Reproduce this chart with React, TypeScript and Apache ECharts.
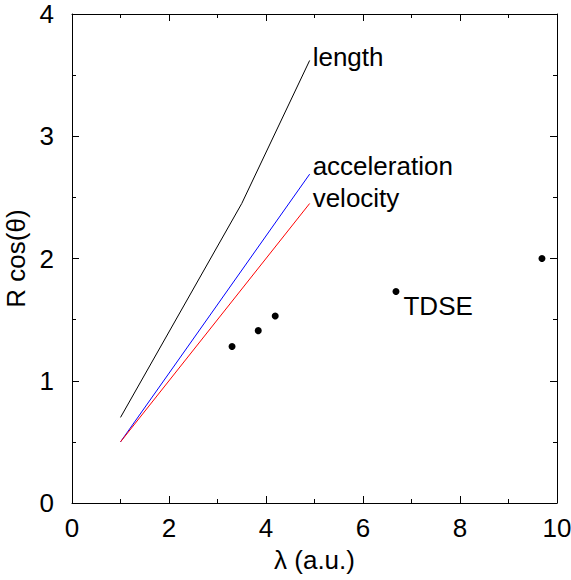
import React, { useEffect, useRef } from "react";
import * as echarts from "echarts";

const lengthX = [1, 3.5, 4.9];
const lengthY = [0.7, 2.45, 3.62];
const accelX = [1, 4.9];
const accelY = [0.5, 2.69];
const velX = [1, 4.9];
const velY = [0.5, 2.45];
const tdseX = [3.3, 3.84, 4.19, 6.68, 9.69];
const tdseY = [1.28, 1.41, 1.53, 1.73, 2.0];
const tdseLabelIndex = 3;

const FONT = "'Liberation Sans', Arial, sans-serif";
const FS = 26;

function zip(xs: number[], ys: number[]) {
  return xs.map((x, i) => [x, ys[i]]);
}

export default function App() {
  const ref = useRef<HTMLDivElement>(null);
  useEffect(() => {
    const chart = echarts.init(ref.current!, null, { renderer: "svg" });
    const axisCommon = {
      axisLine: { show: true, onZero: false, lineStyle: { color: "#000", width: 1 } },
      axisTick: { show: true, inside: true, length: 7, lineStyle: { color: "#000" } },
      minorTick: { show: true, splitNumber: 2, length: 4, lineStyle: { color: "#000" } },
      splitLine: { show: false },
    };
    const lineSeries = (name: string, xs: number[], ys: number[], color: string, offset: number[]) => ({
      type: "line",
      name,
      data: zip(xs, ys),
      showSymbol: false,
      symbol: "none",
      lineStyle: { color, width: 1 },
      endLabel: {
        show: true,
        formatter: name,
        color: "#000",
        fontSize: FS,
        fontFamily: FONT,
        distance: 3,
        offset,
      },
      z: 2,
    });
    chart.setOption({
      animation: false,
      backgroundColor: "#fff",
      grid: { left: 72, right: 14, top: 14, bottom: 77, containLabel: false, outerBoundsMode: "none" },
      xAxis: [
        {
          ...axisCommon,
          type: "value",
          min: 0,
          max: 10,
          interval: 2,
          name: "λ (a.u.)",
          nameLocation: "middle",
          nameGap: 44,
          nameTextStyle: { fontSize: FS, fontFamily: FONT, color: "#000" },
          axisLabel: { fontSize: FS, fontFamily: FONT, color: "#000", margin: 12 },
        },
        {
          ...axisCommon,
          type: "value",
          position: "top",
          min: 0,
          max: 10,
          interval: 2,
          axisLabel: { show: false },
        },
      ],
      yAxis: [
        {
          ...axisCommon,
          type: "value",
          min: 0,
          max: 4,
          interval: 1,
          name: "R cos(θ)",
          nameLocation: "middle",
          nameGap: 37,
          nameTextStyle: { fontSize: FS, fontFamily: FONT, color: "#000" },
          axisLabel: { fontSize: FS, fontFamily: FONT, color: "#000", margin: 18 },
        },
        {
          ...axisCommon,
          type: "value",
          position: "right",
          min: 0,
          max: 4,
          interval: 1,
          axisLabel: { show: false },
        },
      ],
      series: [
        lineSeries("length", lengthX, lengthY, "#000000", [0, -3]),
        lineSeries("acceleration", accelX, accelY, "#0000ff", [0, -8]),
        lineSeries("velocity", velX, velY, "#ff0000", [0, -5]),
        {
          type: "scatter",
          name: "TDSE",
          symbol: "circle",
          symbolSize: 7,
          itemStyle: { color: "#000", opacity: 1 },
          data: zip(tdseX, tdseY).map((p, i) =>
            i === tdseLabelIndex
              ? {
                  value: p,
                  label: {
                    show: true,
                    formatter: "TDSE",
                    position: "right",
                    distance: 4,
                    offset: [0, 14],
                    color: "#000",
                    opacity: 1,
                    fontSize: FS,
                    fontFamily: FONT,
                  },
                }
              : { value: p }
          ),
          z: 3,
        },
      ],
    });
    return () => chart.dispose();
  }, []);
  return (
    <div
      ref={ref}
      style={{ position: "fixed", left: 0, top: 0, width: 571, height: 580 }}
    />
  );
}
